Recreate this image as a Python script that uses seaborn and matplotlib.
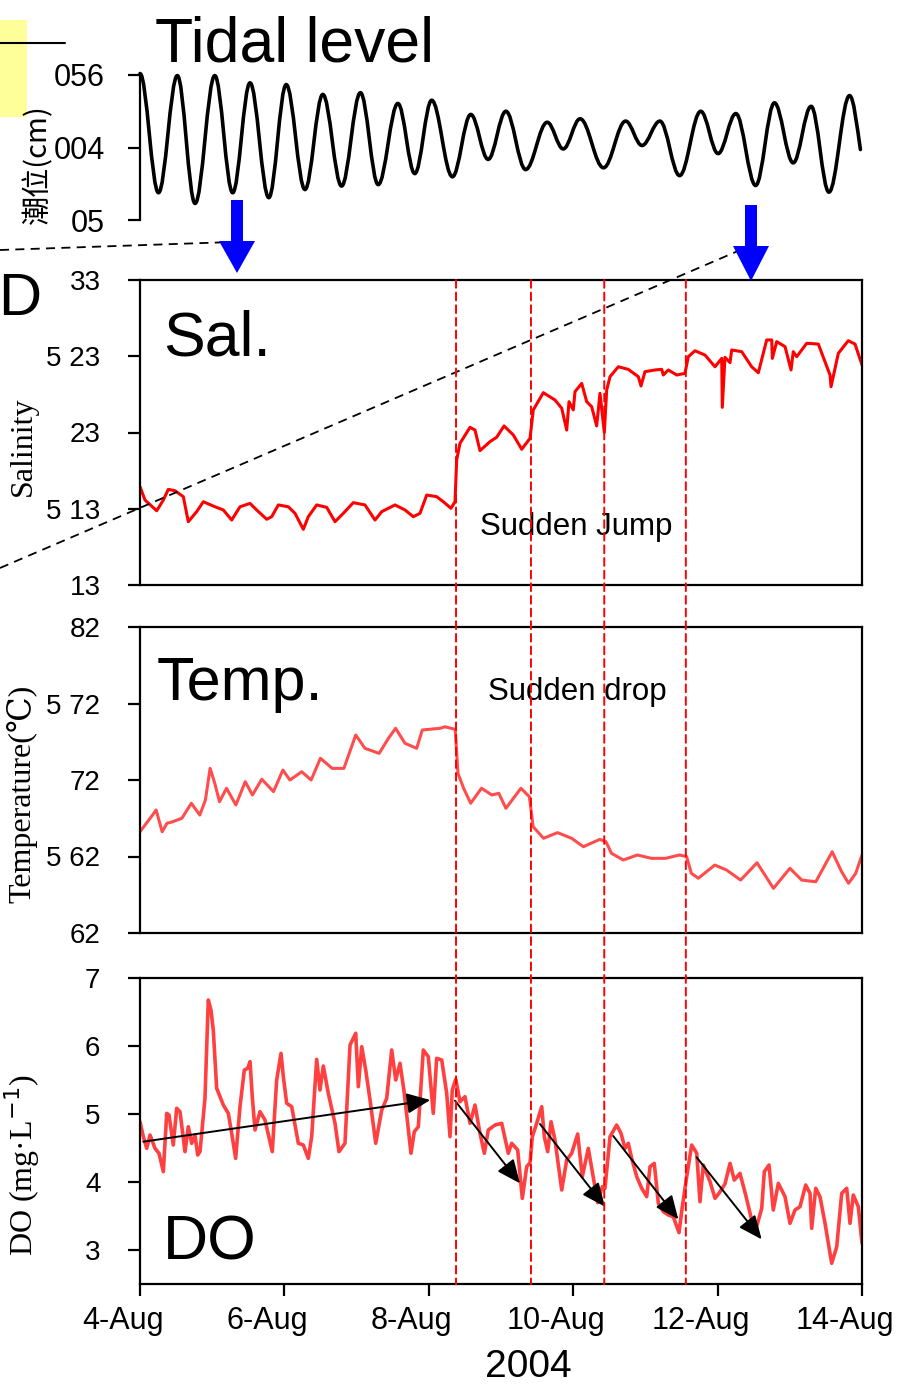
import numpy as np
import pandas as pd
import matplotlib
matplotlib.use("Agg")
import matplotlib.pyplot as plt
import seaborn as sns
from matplotlib.patches import ConnectionPatch, Rectangle, Polygon, PathPatch
from matplotlib.lines import Line2D
from matplotlib.path import Path
from matplotlib.transforms import Affine2D, ScaledTranslation

# ---------------- data (time in days since 4-Aug-2004) ----------------
# tidal level: successive high / low waters
tide_t = [0.000, 0.256, 0.517, 0.763, 1.036, 1.284, 1.524, 1.784, 2.025, 2.285,
          2.532, 2.792, 3.053, 3.299, 3.572, 3.806, 4.040, 4.327, 4.581, 4.822,
          5.068, 5.341, 5.640, 5.862, 6.096, 6.420, 6.726, 6.953, 7.201, 7.474,
          7.766, 8.007, 8.253, 8.527, 8.787, 9.047, 9.295, 9.542, 9.828, 9.978]
tide_v = [655, 244, 648, 207, 648, 244, 623, 227, 617, 255,
          583, 267, 589, 272, 552, 310, 563, 299, 514, 359,
          525, 324, 487, 395, 499, 330, 491, 407, 491, 303,
          525, 379, 517, 269, 554, 347, 542, 246, 579, 393]

sal_t = [0.000, 0.069, 0.231, 0.323, 0.392, 0.485, 0.600, 0.669, 0.785, 0.877,
         1.039, 1.154, 1.270, 1.385, 1.524, 1.616, 1.755, 1.824, 1.916, 2.054,
         2.147, 2.262, 2.331, 2.447, 2.586, 2.701, 2.816, 2.954, 3.116, 3.255,
         3.348, 3.532, 3.670, 3.785, 3.878, 3.971, 4.109, 4.201, 4.307, 4.363,
         4.386, 4.432, 4.571, 4.640, 4.709, 4.848, 4.940, 5.042, 5.170, 5.287,
         5.402, 5.447, 5.586, 5.748, 5.841, 5.910, 5.942, 6.001, 6.025, 6.118,
         6.187, 6.256, 6.325, 6.371, 6.431, 6.464, 6.510, 6.625, 6.763, 6.902,
         6.939, 6.994, 7.133, 7.226, 7.248, 7.317, 7.434, 7.548, 7.594, 7.687,
         7.825, 7.964, 8.057, 8.065, 8.102, 8.172, 8.195, 8.334, 8.472, 8.564,
         8.680, 8.750, 8.758, 8.819, 8.934, 9.017, 9.048, 9.096, 9.234, 9.395,
         9.557, 9.571, 9.672, 9.810, 9.903, 10.000]
sal_v = [31.645, 31.557, 31.487, 31.557, 31.627, 31.618, 31.579, 31.415, 31.481, 31.546,
         31.513, 31.492, 31.426, 31.513, 31.535, 31.492, 31.431, 31.448, 31.525, 31.513,
         31.470, 31.365, 31.448, 31.525, 31.509, 31.415, 31.470, 31.540, 31.525, 31.426,
         31.481, 31.525, 31.492, 31.448, 31.470, 31.590, 31.579, 31.546, 31.503, 31.546,
         31.820, 31.929, 32.034, 32.016, 31.881, 31.940, 31.969, 32.043, 31.984, 31.890,
         31.962, 32.148, 32.261, 32.213, 32.159, 32.016, 32.202, 32.148, 32.268, 32.322,
         32.202, 32.169, 32.043, 32.257, 32.000, 32.279, 32.366, 32.431, 32.414, 32.366,
         32.305, 32.399, 32.410, 32.414, 32.377, 32.410, 32.377, 32.388, 32.497, 32.536,
         32.508, 32.431, 32.486, 32.165, 32.493, 32.458, 32.541, 32.530, 32.431, 32.392,
         32.607, 32.607, 32.486, 32.596, 32.563, 32.410, 32.530, 32.497, 32.585, 32.580,
         32.377, 32.300, 32.519, 32.602, 32.580, 32.443]

temp_t = [0.000, 0.191, 0.223, 0.307, 0.373, 0.452, 0.580, 0.711, 0.828, 0.906,
          0.971, 1.036, 1.101, 1.198, 1.328, 1.458, 1.557, 1.687, 1.849, 1.979,
          2.076, 2.240, 2.370, 2.499, 2.662, 2.824, 2.988, 3.116, 3.312, 3.442,
          3.540, 3.670, 3.832, 3.910, 4.158, 4.223, 4.366, 4.404, 4.482, 4.580,
          4.730, 4.873, 4.970, 5.068, 5.276, 5.393, 5.445, 5.589, 5.783, 5.978,
          6.141, 6.368, 6.453, 6.530, 6.694, 6.889, 7.083, 7.278, 7.474, 7.571,
          7.636, 7.734, 7.961, 8.123, 8.319, 8.546, 8.774, 9.001, 9.165, 9.360,
          9.587, 9.717, 9.814, 9.913, 10.000]
temp_v = [26.662, 26.782, 26.804, 26.662, 26.717, 26.727, 26.750, 26.848, 26.771, 26.869,
          27.076, 26.978, 26.858, 26.946, 26.837, 26.989, 26.902, 27.005, 26.924, 27.065,
          27.000, 27.054, 27.000, 27.142, 27.076, 27.076, 27.294, 27.207, 27.174, 27.273,
          27.338, 27.240, 27.207, 27.327, 27.338, 27.348, 27.331, 27.044, 26.946, 26.848,
          26.946, 26.902, 26.913, 26.815, 26.946, 26.891, 26.695, 26.619, 26.656, 26.619,
          26.564, 26.612, 26.597, 26.521, 26.477, 26.510, 26.488, 26.488, 26.510, 26.499,
          26.390, 26.358, 26.444, 26.412, 26.346, 26.459, 26.292, 26.423, 26.346, 26.335,
          26.531, 26.401, 26.325, 26.390, 26.510]

do_t = [0.000, 0.046, 0.093, 0.139, 0.208, 0.263, 0.323, 0.370, 0.402, 0.461,
        0.508, 0.554, 0.623, 0.669, 0.716, 0.762, 0.799, 0.831, 0.900, 0.946,
        0.983, 1.015, 1.062, 1.154, 1.223, 1.270, 1.325, 1.385, 1.445, 1.492,
        1.524, 1.555, 1.593, 1.662, 1.731, 1.832, 1.893, 1.953, 1.985, 2.032,
        2.101, 2.193, 2.262, 2.331, 2.378, 2.447, 2.493, 2.539, 2.608, 2.701,
        2.756, 2.839, 2.909, 2.988, 3.024, 3.071, 3.126, 3.186, 3.265, 3.348,
        3.417, 3.486, 3.542, 3.601, 3.661, 3.753, 3.799, 3.855, 3.924, 3.993,
        4.062, 4.109, 4.179, 4.248, 4.294, 4.325, 4.373, 4.432, 4.501, 4.571,
        4.640, 4.709, 4.769, 4.824, 4.917, 5.010, 5.101, 5.148, 5.231, 5.295,
        5.356, 5.402, 5.434, 5.494, 5.564, 5.600, 5.647, 5.693, 5.748, 5.841,
        5.910, 5.979, 6.062, 6.126, 6.209, 6.265, 6.339, 6.403, 6.440, 6.510,
        6.602, 6.662, 6.717, 6.763, 6.810, 6.880, 6.949, 7.018, 7.064, 7.123,
        7.179, 7.248, 7.317, 7.386, 7.465, 7.511, 7.572, 7.641, 7.711, 7.756,
        7.802, 7.895, 7.964, 8.019, 8.102, 8.172, 8.231, 8.310, 8.389, 8.472,
        8.541, 8.611, 8.647, 8.712, 8.771, 8.841, 8.934, 9.003, 9.072, 9.141,
        9.220, 9.280, 9.303, 9.359, 9.418, 9.488, 9.580, 9.650, 9.719, 9.788,
        9.834, 9.879, 9.949, 10.000]
do_v = [4.887, 4.667, 4.495, 4.691, 4.495, 4.422, 4.152, 5.010, 4.985, 4.544,
        5.084, 5.034, 4.446, 4.813, 4.569, 4.691, 4.397, 4.446, 5.231, 6.676,
        6.529, 6.235, 5.378, 5.132, 5.010, 4.716, 4.348, 5.108, 5.647, 5.672,
        5.770, 5.255, 4.765, 5.034, 4.912, 4.446, 5.500, 5.892, 5.549, 5.157,
        5.108, 4.569, 4.544, 4.348, 4.667, 5.804, 5.353, 5.706, 5.304, 4.863,
        4.446, 4.569, 6.015, 6.187, 5.402, 5.990, 5.647, 5.206, 4.569, 5.059,
        5.231, 5.941, 5.500, 5.746, 5.304, 4.422, 4.740, 4.813, 5.941, 5.843,
        5.010, 5.819, 5.794, 5.304, 4.667, 5.353, 5.510, 5.181, 5.255, 4.863,
        5.132, 4.716, 4.422, 4.765, 4.838, 4.863, 4.422, 4.569, 4.471, 3.760,
        4.225, 4.284, 4.667, 4.863, 5.108, 4.667, 4.446, 4.887, 4.618, 3.882,
        4.324, 4.422, 4.706, 4.078, 4.495, 4.152, 3.696, 3.931, 3.907, 4.667,
        4.838, 4.716, 4.495, 4.569, 4.348, 4.078, 3.907, 3.784, 4.225, 4.274,
        3.687, 3.564, 3.515, 3.490, 3.255, 3.637, 4.078, 4.544, 4.422, 3.710,
        4.250, 4.005, 3.760, 3.833, 3.971, 4.274, 4.029, 4.127, 3.809, 3.441,
        3.343, 3.613, 4.152, 4.250, 3.588, 3.980, 3.784, 3.392, 3.588, 3.637,
        3.956, 3.833, 3.319, 3.907, 3.784, 3.392, 2.804, 3.049, 3.833, 3.907,
        3.392, 3.809, 3.637, 3.098]

# event times (vertical dashed lines) and trend arrows on DO
event_t = [4.377, 5.415, 6.430, 7.560]
arrow_t0 = [0.046, 4.363, 5.540, 6.555, 7.710]
arrow_v0 = [4.593, 5.196, 4.853, 4.676, 4.363]
arrow_t1 = [4.020, 5.263, 6.440, 7.456, 8.610]
arrow_v1 = [5.206, 3.980, 3.637, 3.451, 3.157]

x_ticks = [0, 2, 4, 6, 8, 10]
x_labels = ["4-Aug", "6-Aug", "8-Aug", "10-Aug", "12-Aug", "14-Aug"]
tide_ticks = [150, 400, 650]
tide_labels = ["05", "004", "056"]
sal_ticks = [31, 31.5, 32, 32.5, 33]
sal_labels = ["13", "5 13", "23", "5 23", "33"]
temp_ticks = [26, 26.5, 27, 27.5, 28]
temp_labels = ["62", "5 62", "72", "5 72", "82"]
do_ticks = [3, 4, 5, 6, 7]
do_labels = ["3", "4", "5", "6", "7"]

# ---------------- figure ----------------
sns.set_style("white")
plt.rcParams['font.family'] = ['Liberation Sans', 'DejaVu Sans']

W, H = 921, 1387
fig = plt.figure(figsize=(W / 100, H / 100), dpi=100)
pix = Affine2D().scale(1 / W, -1 / H).translate(0, 1) + fig.transFigure


def box(top, bottom, left=140, right=862):
    return [left / W, 1 - bottom / H, (right - left) / W, (bottom - top) / H]


ax_t = fig.add_axes(box(75, 220))
ax_s = fig.add_axes(box(280, 585))
ax_p = fig.add_axes(box(627, 933))
ax_d = fig.add_axes(box(978, 1284))

# tidal curve: smooth (Bezier) line through the read high/low waters
k = 0.363
verts = [(tide_t[0], tide_v[0])]
codes = [Path.MOVETO]
n = len(tide_t)
for i in range(n - 1):
    ta, va, tb, vb = tide_t[i], tide_v[i], tide_t[i + 1], tide_v[i + 1]
    dt = tb - ta
    c1 = (ta + k * dt, va)
    if i == n - 2:
        c2 = (tb - dt / 3, vb + (va - vb) * 0.45)
    else:
        c2 = (tb - k * dt, vb)
    verts += [c1, c2, (tb, vb)]
    codes += [Path.CURVE4] * 3
ax_t.add_patch(PathPatch(Path(verts, codes), facecolor="none", edgecolor="black",
                         lw=2.6, clip_on=False, capstyle="round", joinstyle="round"))

sns.lineplot(x=sal_t, y=sal_v, ax=ax_s, color="#FF0000", linewidth=2.2,
             estimator=None, sort=False)
sns.lineplot(x=temp_t, y=temp_v, ax=ax_p, color="#FF4D4D", linewidth=2.2,
             estimator=None, sort=False)
sns.lineplot(x=do_t, y=do_v, ax=ax_d, color="#FF4040", linewidth=2.6,
             estimator=None, sort=False)

# tidal axis: only left spine
ax_t.set_xlim(0, 10)
ax_t.set_ylim(150, 650)
for s in ["top", "right", "bottom"]:
    ax_t.spines[s].set_visible(False)
ax_t.spines["left"].set_linewidth(1.6)
ax_t.spines["left"].set_color("black")
ax_t.set_xticks([])
ax_t.set_yticks(tide_ticks)
ax_t.set_yticklabels(tide_labels)
ax_t.tick_params(axis="y", direction="out", length=8.5, width=1.6, pad=17,
                 labelsize=22, left=True, colors="black")
ax_t.set_facecolor("none")

panels = [(ax_s, (31, 33), sal_ticks, sal_labels),
          (ax_p, (26, 28), temp_ticks, temp_labels),
          (ax_d, (2.5, 7), do_ticks, do_labels)]
for ax, ylim, ticks, labels in panels:
    ax.set_xlim(0, 10)
    ax.set_ylim(*ylim)
    ax.set_yticks(ticks)
    ax.set_yticklabels(labels)
    for s in ax.spines.values():
        s.set_visible(True)
        s.set_linewidth(1.6)
        s.set_color("black")
    ax.tick_params(axis="y", direction="out", length=8.5, width=1.6, pad=20,
                   labelsize=20, left=True, colors="black")
    ax.set_xticks([])
    ax.set_xlabel("")
    ax.set_ylabel("")
    ax.set_facecolor("none")

ax_d.set_xticks(x_ticks)
ax_d.set_xticklabels(x_labels)
ax_d.tick_params(axis="x", direction="out", length=8.5, width=1.6, pad=7,
                 labelsize=22, bottom=True, colors="black")
for lab in ax_d.get_xticklabels():
    lab.set_transform(lab.get_transform() + ScaledTranslation(-0.17, 0, fig.dpi_scale_trans))

# vertical dashed event lines across the three panels
for x in event_t:
    cp = ConnectionPatch(xyA=(x, 33), coordsA=ax_s.transData,
                         xyB=(x, 2.5), coordsB=ax_d.transData,
                         color="#FF0000", lw=1.4, linestyle=(0, (4, 2.5)), zorder=5)
    fig.add_artist(cp)

# DO trend arrows
for t0, v0, t1, v1 in zip(arrow_t0, arrow_v0, arrow_t1, arrow_v1):
    ax_d.annotate("", xy=(t1, v1), xytext=(t0, v0),
                  arrowprops=dict(arrowstyle="-|>,head_length=0.8,head_width=0.35",
                                  color="black", lw=1.4, mutation_scale=18,
                                  shrinkA=0, shrinkB=0))

# panel titles and notes
txt = dict(transform=pix, color="black")
fig.text(155, 62, "Tidal level", fontsize=45, ha="left", va="baseline", **txt)
fig.text(163, 355, "Sal.", fontsize=45, ha="left", va="baseline", **txt)
fig.text(157, 700, "Temp.", fontsize=44, ha="left", va="baseline", **txt)
fig.text(163, 1259, "DO", fontsize=45, ha="left", va="baseline", **txt)
fig.text(-2, 315, "D", fontsize=43, ha="left", va="baseline", **txt)
fig.text(480, 535, "Sudden Jump", fontsize=22.5, ha="left", va="baseline", **txt)
fig.text(488, 700, "Sudden drop", fontsize=22.5, ha="left", va="baseline", **txt)
fig.text(528, 1377, "2004", fontsize=28, ha="center", va="baseline", **txt)

# axis titles (rotated)
fig.text(38, 165, "潮位(cm)", fontsize=21, rotation=90, ha="center", va="center",
         family=["Noto Sans CJK SC", "DejaVu Sans"], **txt)
fig.text(23, 446, "Salinity", fontsize=23, rotation=90, ha="center", va="center",
         family=["Liberation Serif", "DejaVu Serif"], **txt)
fig.text(22, 794, "Temperature(℃)", fontsize=23, rotation=90, ha="center", va="center",
         family=["Liberation Serif", "DejaVu Serif"], **txt)
fig.text(22, 1165, "DO (mg·L$^{-1}$)", fontsize=23, rotation=90, ha="center", va="center",
         family=["Liberation Serif", "DejaVu Serif"], **txt)

# decorations: yellow box, short rule, blue arrows, dashed guide lines
fig.add_artist(Rectangle((0, 20), 27, 97, transform=pix, facecolor="#FFFF99",
                         edgecolor="none", zorder=0))
fig.add_artist(Line2D([0, 65], [43, 43], transform=pix, color="black", lw=1.5))
for cx, y0, y1, y2 in [(237, 200, 241, 273), (751, 205, 246, 281)]:
    poly = [(cx - 6, y0), (cx + 6, y0), (cx + 6, y1), (cx + 18, y1), (cx, y2),
            (cx - 18, y1), (cx - 6, y1)]
    fig.add_artist(Polygon(poly, closed=True, transform=pix, facecolor="#0000FF",
                           edgecolor="none", zorder=6))
fig.add_artist(Line2D([0, 233], [250, 242], transform=pix, color="black", lw=1.3,
                      linestyle=(0, (5, 3.5)), zorder=4))
fig.add_artist(Line2D([0, 745], [568, 248], transform=pix, color="black", lw=1.3,
                      linestyle=(0, (5, 3.5)), zorder=4))

fig.savefig("out.png", dpi=100)
